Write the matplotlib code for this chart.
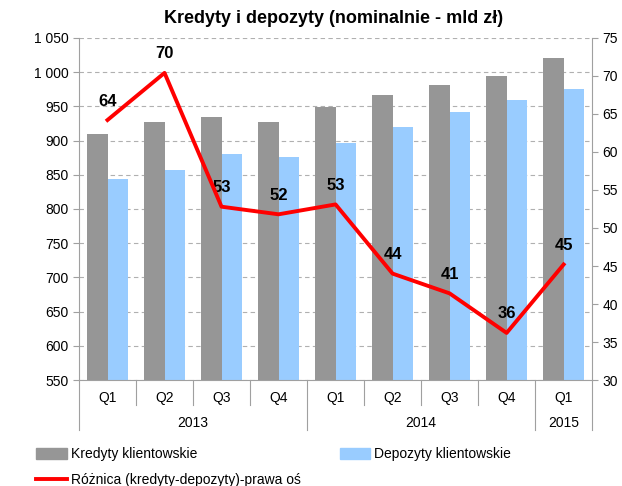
import numpy as np
import matplotlib.pyplot as plt
from matplotlib.lines import Line2D
from matplotlib.patches import Patch

plt.rcParams['font.family'] = ['Liberation Sans', 'DejaVu Sans']

# data
quarters = ['Q1', 'Q2', 'Q3', 'Q4', 'Q1', 'Q2', 'Q3', 'Q4', 'Q1']
years = ['2013', '2014', '2015']
year_counts = [4, 4, 1]
kredyty = [909, 927, 935, 927, 949, 966, 981, 995, 1020]
depozyty = [844, 857, 881, 876, 897, 920, 941, 959, 975]
roznica = [64.2, 70.4, 52.8, 51.8, 53.1, 44.0, 41.4, 36.2, 45.2]

GRAY = '#969696'
BLUE = '#99CCFF'
RED = '#FF0000'
AXC = '#A0A0A0'

fig = plt.figure(figsize=(6.22, 4.86), dpi=100)
ax = fig.add_axes([0.127, 0.218, 0.825, 0.704])

x = np.arange(len(quarters))
w = 0.36
ax.bar(x - w / 2, kredyty, w, color=GRAY, zorder=2)
ax.bar(x + w / 2, depozyty, w, color=BLUE, zorder=2)
ax.set_xlim(-0.5, len(quarters) - 0.5)
ax.set_ylim(550, 1050)
ax.set_yticks(np.arange(550, 1051, 50))
ax.set_yticklabels([f'{v:,}'.replace(',', ' ') for v in range(550, 1051, 50)])
ax.grid(axis='y', color='#B0B0B0', linestyle=(0, (4, 3)), linewidth=0.8, zorder=0)
ax.set_xticks([])
for s in ['top', 'right']:
    ax.spines[s].set_visible(False)
ax.spines['left'].set_color(AXC)
ax.spines['bottom'].set_color(AXC)
ax.tick_params(axis='y', colors=AXC, labelcolor='black', labelsize=10, length=4)

ax2 = ax.twinx()
ax2.set_ylim(30, 75)
ax2.set_yticks(np.arange(30, 76, 5))
ax2.plot(x, roznica, color=RED, linewidth=2.8, zorder=5)
for xi, v in zip(x, roznica):
    ax2.text(xi, v + 2.5, f'{round(v)}', ha='center', va='center',
             fontsize=12, fontweight='bold')
for s in ['top', 'left', 'bottom']:
    ax2.spines[s].set_visible(False)
ax2.spines['right'].set_color(AXC)
ax2.tick_params(axis='y', colors=AXC, labelcolor='black', labelsize=10, length=4)

# two level category axis
tr = ax.get_xaxis_transform()
for i, q in enumerate(quarters):
    ax.text(i, -0.053, q, transform=tr, ha='center', va='center', fontsize=10)
bounds = np.cumsum([0] + year_counts)
for i in range(len(quarters) + 1):
    low = -0.146 if i in bounds else -0.073
    ax.add_line(Line2D([i - 0.5, i - 0.5], [0, low], transform=tr,
                       color=AXC, linewidth=0.8, clip_on=False))
for yr, a, b in zip(years, bounds[:-1], bounds[1:]):
    ax.text((a + b - 1) / 2, -0.126, yr, transform=tr, ha='center',
            va='center', fontsize=10)

fig.text(0.536, 0.962, 'Kredyty i depozyty (nominalnie - mld zł)',
         ha='center', va='center', fontsize=13, fontweight='bold')

handles = [Patch(color=GRAY), Line2D([], [], color=RED, linewidth=2.8),
           Patch(color=BLUE)]
labels = ['Kredyty klientowskie', 'Różnica (kredyty-depozyty)-prawa oś',
          'Depozyty klientowskie']
fig.legend(handles, labels, ncol=2, loc='upper left',
           bbox_to_anchor=(0.058, 0.08), frameon=False, fontsize=10,
           handlelength=2.2, handleheight=0.9, handletextpad=0.3,
           columnspacing=2.8, labelspacing=0.85, borderaxespad=0,
           borderpad=0)

fig.savefig('out.png', dpi=100)
